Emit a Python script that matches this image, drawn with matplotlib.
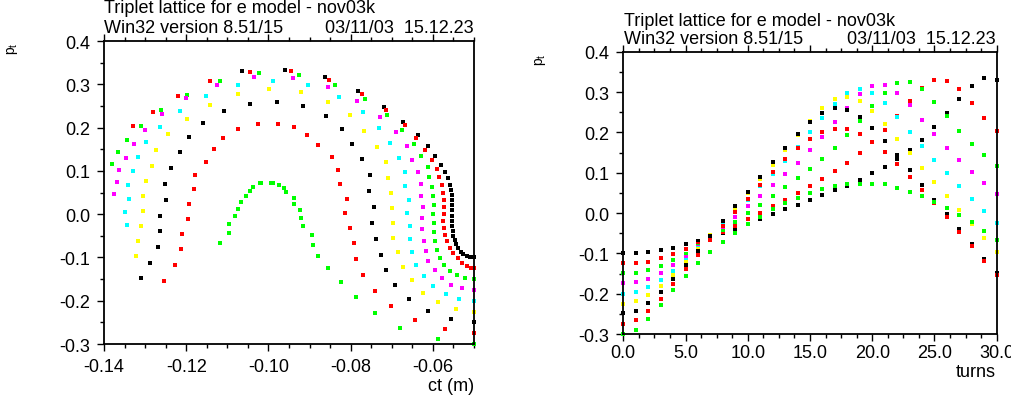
import numpy as np
import matplotlib
matplotlib.use('Agg')
import matplotlib.pyplot as plt
from matplotlib.ticker import MultipleLocator, FormatStrFormatter

plt.rcParams['font.family'] = ['Liberation Sans', 'DejaVu Sans']

turns = [0, 1, 2, 3, 4, 5, 6, 7, 8, 9, 10, 11, 12, 13, 14, 15,
         16, 17, 18, 19, 20, 21, 22, 23, 24, 25, 26, 27, 28, 29, 30]

# particle 1: pt0 = -0.100 (black)
ct_1 = [-0.0500, -0.0510, -0.0518, -0.0526, -0.0532, -0.0539, -0.0544, -0.0547, -0.0550, -0.0552, -0.0553,
        -0.0553, -0.0553, -0.0553, -0.0553, -0.0553, -0.0554, -0.0556, -0.0558, -0.0564, -0.0570,
        -0.0581, -0.0594, -0.0612, -0.0637, -0.0672, -0.0718, -0.0781, -0.0862, -0.0960, -0.1064]
pt_1 = [-0.0996, -0.0990, -0.0965, -0.0919, -0.0866, -0.0773, -0.0688, -0.0596, -0.0496, -0.0388, -0.0273,
        -0.0157, -0.0034, 0.0090, 0.0205, 0.0320, 0.0443, 0.0559, 0.0681, 0.0829, 0.0982,
        0.1143, 0.1337, 0.1568, 0.1822, 0.2124, 0.2471, 0.2834, 0.3160, 0.3340, 0.3305]
# particle 2: pt0 = -0.125 (red)
ct_2 = [-0.0501, -0.0508, -0.0516, -0.0529, -0.0540, -0.0550, -0.0558, -0.0565, -0.0571, -0.0573, -0.0575,
        -0.0574, -0.0574, -0.0574, -0.0576, -0.0578, -0.0584, -0.0590, -0.0601, -0.0618, -0.0640,
        -0.0669, -0.0714, -0.0773, -0.0852, -0.0945, -0.1046, -0.1141, -0.1219, -0.1280, -0.1330]
pt_2 = [-0.1250, -0.1235, -0.1204, -0.1127, -0.1019, -0.0903, -0.0773, -0.0626, -0.0473, -0.0311, -0.0157,
        0.0005, 0.0166, 0.0328, 0.0497, 0.0674, 0.0852, 0.1037, 0.1245, 0.1483, 0.1753,
        0.2053, 0.2400, 0.2770, 0.3100, 0.3307, 0.3284, 0.3070, 0.2720, 0.2368, 0.2030]
# particle 3: pt0 = -0.150 (green)
ct_3 = [-0.0500, -0.0522, -0.0541, -0.0558, -0.0572, -0.0582, -0.0589, -0.0595, -0.0597, -0.0597, -0.0599,
        -0.0598, -0.0600, -0.0601, -0.0609, -0.0613, -0.0628, -0.0647, -0.0674, -0.0712, -0.0766,
        -0.0838, -0.0926, -0.1024, -0.1119, -0.1199, -0.1262, -0.1309, -0.1343, -0.1365, -0.1380]
pt_3 = [-0.1497, -0.1480, -0.1409, -0.1304, -0.1173, -0.1004, -0.0820, -0.0626, -0.0419, -0.0212, -0.0004,
        0.0204, 0.0411, 0.0634, 0.0857, 0.1088, 0.1342, 0.1619, 0.1935, 0.2281, 0.2650,
        0.2984, 0.3222, 0.3254, 0.3076, 0.2760, 0.2400, 0.2044, 0.1720, 0.1430, 0.1167]
# particle 4: pt0 = -0.175 (magenta)
ct_4 = [-0.0500, -0.0528, -0.0555, -0.0578, -0.0596, -0.0611, -0.0617, -0.0621, -0.0627, -0.0627, -0.0625,
        -0.0630, -0.0630, -0.0637, -0.0650, -0.0664, -0.0689, -0.0729, -0.0785, -0.0855, -0.0940,
        -0.1034, -0.1124, -0.1200, -0.1258, -0.1300, -0.1326, -0.1347, -0.1364, -0.1368, -0.1375]
pt_4 = [-0.1743, -0.1712, -0.1628, -0.1480, -0.1296, -0.1088, -0.0850, -0.0611, -0.0349, -0.0095, 0.0166,
        0.0428, 0.0690, 0.0968, 0.1252, 0.1568, 0.1891, 0.2245, 0.2614, 0.2945, 0.3153,
        0.3169, 0.2984, 0.2677, 0.2307, 0.1953, 0.1614, 0.1306, 0.1014, 0.0737, 0.0474]
# particle 5: pt0 = -0.200 (cyan)
ct_5 = [-0.0500, -0.0536, -0.0569, -0.0599, -0.0621, -0.0640, -0.0652, -0.0656, -0.0655, -0.0662, -0.0658,
        -0.0667, -0.0667, -0.0682, -0.0704, -0.0730, -0.0771, -0.0829, -0.0903, -0.0988, -0.1075,
        -0.1152, -0.1214, -0.1264, -0.1299, -0.1317, -0.1329, -0.1341, -0.1339, -0.1348, -0.1345]
pt_5 = [-0.1997, -0.1951, -0.1836, -0.1658, -0.1427, -0.1166, -0.0873, -0.0573, -0.0273, 0.0035, 0.0335,
        0.0658, 0.0968, 0.1298, 0.1637, 0.1998, 0.2367, 0.2714, 0.2977, 0.3069, 0.2977,
        0.2723, 0.2383, 0.2014, 0.1660, 0.1314, 0.0991, 0.0674, 0.0351, 0.0044, -0.0256]
# particle 6: pt0 = -0.225 (yellow)
ct_6 = [-0.0500, -0.0545, -0.0588, -0.0624, -0.0652, -0.0672, -0.0686, -0.0698, -0.0696, -0.0699, -0.0702,
        -0.0708, -0.0714, -0.0737, -0.0767, -0.0802, -0.0854, -0.0921, -0.0998, -0.1075, -0.1143,
        -0.1199, -0.1244, -0.1273, -0.1283, -0.1297, -0.1304, -0.1304, -0.1309, -0.1317, -0.1321]
pt_6 = [-0.2252, -0.2189, -0.2035, -0.1813, -0.1527, -0.1219, -0.0880, -0.0550, -0.0203, 0.0136, 0.0490,
        0.0843, 0.1199, 0.1559, 0.1928, 0.2284, 0.2598, 0.2815, 0.2885, 0.2776, 0.2529,
        0.2199, 0.1845, 0.1476, 0.1113, 0.0760, 0.0413, 0.0067, -0.0280, -0.0626, -0.0965]
# particle 7: pt0 = -0.250 (black)
ct_7 = [-0.0500, -0.0556, -0.0612, -0.0659, -0.0693, -0.0715, -0.0727, -0.0738, -0.0749, -0.0743, -0.0756,
        -0.0754, -0.0773, -0.0796, -0.0820, -0.0860, -0.0915, -0.0979, -0.1045, -0.1107, -0.1158,
        -0.1194, -0.1214, -0.1236, -0.1252, -0.1250, -0.1264, -0.1263, -0.1269, -0.1288, -0.1310]
pt_7 = [-0.2490, -0.2427, -0.2243, -0.1965, -0.1642, -0.1289, -0.0935, -0.0573, -0.0203, 0.0166, 0.0529,
        0.0898, 0.1268, 0.1621, 0.1968, 0.2268, 0.2491, 0.2599, 0.2552, 0.2386, 0.2106,
        0.1783, 0.1430, 0.1067, 0.0698, 0.0328, -0.0034, -0.0395, -0.0765, -0.1134, -0.1480]
# particle 8: pt0 = -0.275 (red)
ct_8 = [-0.0500, -0.0570, -0.0643, -0.0701, -0.0741, -0.0770, -0.0788, -0.0793, -0.0802, -0.0815, -0.0810,
        -0.0827, -0.0831, -0.0846, -0.0879, -0.0907, -0.0937, -0.0976, -0.1025, -0.1074, -0.1111,
        -0.1133, -0.1152, -0.1179, -0.1181, -0.1193, -0.1195, -0.1211, -0.1213, -0.1227, -0.1253]
pt_8 = [-0.2744, -0.2658, -0.2436, -0.2120, -0.1766, -0.1397, -0.1035, -0.0669, -0.0326, 0.0021, 0.0358,
        0.0690, 0.1014, 0.1328, 0.1605, 0.1836, 0.2007, 0.2090, 0.2076, 0.1961, 0.1760,
        0.1513, 0.1213, 0.0898, 0.0575, 0.0236, -0.0111, -0.0464, -0.0811, -0.1180, -0.1543]
# particle 9: pt0 = -0.300 (green)
ct_9 = [-0.0500, -0.0588, -0.0679, -0.0741, -0.0787, -0.0824, -0.0855, -0.0880, -0.0891, -0.0894, -0.0915,
        -0.0920, -0.0924, -0.0939, -0.0939, -0.0958, -0.0961, -0.0974, -0.0990, -0.0993, -0.1018,
        -0.1020, -0.1038, -0.1045, -0.1055, -0.1067, -0.1075, -0.1082, -0.1097, -0.1097, -0.1117]
pt_9 = [-0.3000, -0.2890, -0.2628, -0.2282, -0.1912, -0.1566, -0.1250, -0.0973, -0.0719, -0.0488, -0.0280,
        -0.0088, 0.0090, 0.0243, 0.0381, 0.0506, 0.0598, 0.0674, 0.0718, 0.0727, 0.0725,
        0.0712, 0.0620, 0.0529, 0.0413, 0.0275, 0.0128, -0.0042, -0.0233, -0.0434, -0.0665]

ct_all = [ct_1, ct_2, ct_3, ct_4, ct_5, ct_6, ct_7, ct_8, ct_9]
pt_all = [pt_1, pt_2, pt_3, pt_4, pt_5, pt_6, pt_7, pt_8, pt_9]
colours = ['#000000', '#ff0000', '#00ff00', '#ff00ff', '#00ffff', '#ffff00', '#000000', '#ff0000', '#00ff00']

title1 = 'Triplet lattice for e model - nov03k'
title2 = 'Win32 version 8.51/15'
stamp = '03/11/03  15.12.23'

W, H = 1012, 402
fig = plt.figure(figsize=(W / 100, H / 100), dpi=100)

def frac(x0, y0, x1, y1):
    # pixel box -> figure fraction [left, bottom, width, height]
    return [x0 / W, 1 - y1 / H, (x1 - x0) / W, (y1 - y0) / H]

ax1 = fig.add_axes(frac(104, 42, 474, 345))
ax2 = fig.add_axes(frac(623.3, 52.7, 996.7, 335))

for ct, pt, c in zip(ct_all, pt_all, colours):
    ax1.plot(ct, pt, 's', color=c, ms=2.2, mew=0, clip_on=False)
    ax2.plot(turns, pt, 's', color=c, ms=2.2, mew=0, clip_on=False)

ax1.set_xlim(-0.14, -0.05)
ax1.set_ylim(-0.3, 0.4)
ax1.xaxis.set_major_locator(MultipleLocator(0.02))
ax1.xaxis.set_minor_locator(MultipleLocator(0.005))
ax1.xaxis.set_major_formatter(FormatStrFormatter('%.2f'))

ax2.set_xlim(0, 30)
ax2.set_ylim(-0.3, 0.4)
ax2.xaxis.set_major_locator(MultipleLocator(5))
ax2.xaxis.set_minor_locator(MultipleLocator(1.25))
ax2.xaxis.set_major_formatter(FormatStrFormatter('%.1f'))

for ax in (ax1, ax2):
    ax.yaxis.set_major_locator(MultipleLocator(0.1))
    ax.yaxis.set_minor_locator(MultipleLocator(0.05))
    ax.yaxis.set_major_formatter(FormatStrFormatter('%.1f'))
    ax.tick_params(which='both', direction='out', top=True, right=False, labelsize=13, width=1, pad=5)
    ax.tick_params(which='major', length=5)
    ax.tick_params(which='minor', length=3)
    for s in ax.spines.values():
        s.set_linewidth(1.3)
ax2.tick_params(axis='x', pad=2)

# titles and axis labels (pixel positions)
fig.text(104 / W, 1 - 13 / H, title1, fontsize=13, va='baseline')
fig.text(104 / W, 1 - 33 / H, title2, fontsize=13, va='baseline')
fig.text(474 / W, 1 - 33 / H, stamp, fontsize=13, va='baseline', ha='right')
fig.text(624 / W, 1 - 26 / H, title1, fontsize=13, va='baseline')
fig.text(624 / W, 1 - 44 / H, title2, fontsize=13, va='baseline')
fig.text(996 / W, 1 - 44 / H, stamp, fontsize=13, va='baseline', ha='right')

fig.text(13 / W, 1 - 49 / H, r'p$_\mathregular{t}$', fontsize=10, rotation=90, ha='center', va='center')
fig.text(540 / W, 1 - 60 / H, r'p$_\mathregular{t}$', fontsize=10, rotation=90, ha='center', va='center')
fig.text(474 / W, 1 - 387 / H, 'ct (m)', fontsize=13, ha='right', va='center')
fig.text(996 / W, 1 - 373 / H, 'turns', fontsize=13, ha='right', va='center')

fig.savefig('out.png', dpi=100)
